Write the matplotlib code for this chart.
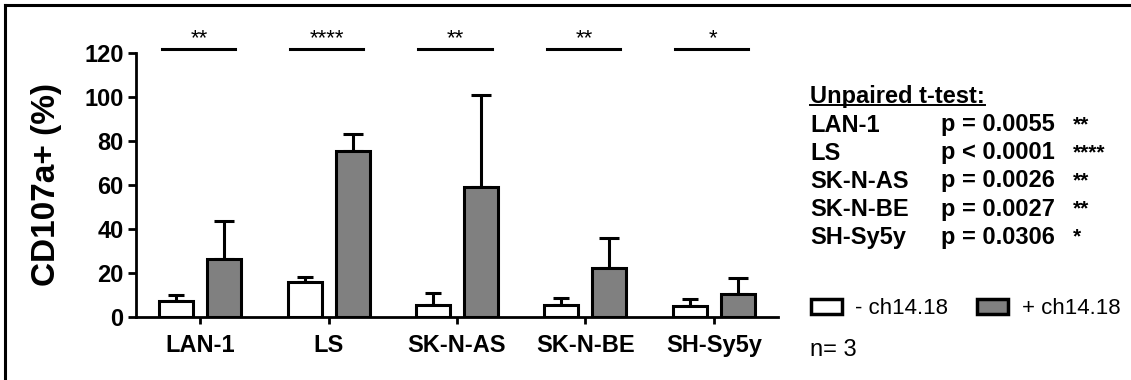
import matplotlib.pyplot as plt
import numpy as np
from matplotlib.patches import Patch
from matplotlib.lines import Line2D

plt.rcParams['font.family'] = ['Liberation Sans', 'DejaVu Sans']

cell_lines = ['LAN-1', 'LS', 'SK-N-AS', 'SK-N-BE', 'SH-Sy5y']
mean_minus = [7.3, 16.0, 5.5, 5.3, 4.8]
sd_minus = [2.5, 2.0, 5.3, 3.5, 3.2]
mean_plus = [26.5, 75.5, 59.2, 22.4, 10.5]
sd_plus = [17.3, 7.5, 41.8, 13.6, 7.4]
stars = ['**', '****', '**', '**', '*']
p_text = ['p = 0.0055', 'p < 0.0001', 'p = 0.0026', 'p = 0.0027', 'p = 0.0306']
legend_labels = ['- ch14.18', '+ ch14.18']
n_text = 'n= 3'

W, H = 1131, 380
fig = plt.figure(figsize=(W / 100, H / 100), dpi=100)
ax = fig.add_axes([136 / W, 1 - 317 / H, (778 - 136) / W, (317 - 53) / H])

x = np.arange(len(cell_lines))
bw = 0.265
off = 0.187
lw = 2.2

ax.errorbar(x - off, mean_minus, yerr=[np.zeros(5), sd_minus], fmt='none',
            ecolor='black', elinewidth=lw, capsize=6, capthick=lw, zorder=1)
ax.errorbar(x + off, mean_plus, yerr=[np.zeros(5), sd_plus], fmt='none',
            ecolor='black', elinewidth=lw, capsize=7, capthick=lw, zorder=1)
ax.bar(x - off, mean_minus, bw, color='white', edgecolor='black', linewidth=lw, zorder=2)
ax.bar(x + off, mean_plus, bw, color='#808080', edgecolor='black', linewidth=lw, zorder=2)

# significance bars above each pair
for i, s in enumerate(stars):
    ax.plot([i - 0.3, i + 0.27], [122, 122], color='black', lw=lw, clip_on=False)
    ax.text(i - 0.01, 126.5, s, ha='center', va='center', fontsize=16)

ax.set_xlim(-0.5, 4.5)
ax.set_ylim(0, 120)
ax.set_yticks(np.arange(0, 121, 20))
ax.set_xticks(x)
ax.set_xticklabels(cell_lines, fontsize=17, fontweight='bold')
for t in ax.get_yticklabels():
    t.set_fontsize(17)
    t.set_fontweight('bold')
ax.tick_params(axis='y', length=6, width=2, pad=3)
ax.tick_params(axis='x', length=5, width=2, pad=7)
for sp in ['top', 'right']:
    ax.spines[sp].set_visible(False)
for sp in ['left', 'bottom']:
    ax.spines[sp].set_linewidth(2)
ax.set_ylabel('CD107a+ (%)', fontsize=24, fontweight='bold', labelpad=16)

# t-test summary on the right
fs = 17
head = fig.text(810 / W, 1 - 97 / H, 'Unpaired t-test:', fontsize=fs,
                fontweight='bold', va='center')
fig.canvas.draw()
bb = head.get_window_extent(fig.canvas.get_renderer())
fig.add_artist(Line2D([bb.x0 / W, bb.x1 / W], [1 - 105 / H] * 2,
                      color='black', lw=1.4, transform=fig.transFigure))
for k, name in enumerate(cell_lines):
    yy = 1 - (125 + 28 * k) / H
    fig.text(810 / W, yy, name, fontsize=fs, fontweight='bold', va='center')
    fig.text(941 / W, yy, p_text[k], fontsize=fs, fontweight='bold', va='center')
    fig.text(1073 / W, yy, stars[k], fontsize=15, fontweight='bold', va='center')

handles = [Patch(facecolor='white', edgecolor='black', linewidth=2.5, label=legend_labels[0]),
           Patch(facecolor='#808080', edgecolor='black', linewidth=2.5, label=legend_labels[1])]
fig.legend(handles=handles, ncol=2, frameon=False, loc='center left',
           bbox_to_anchor=(811 / W, 1 - 309 / H), fontsize=16, borderpad=0,
           borderaxespad=0, handlelength=1.4, handleheight=0.68,
           handletextpad=0.6, columnspacing=1.3)
fig.text(810 / W, 1 - 350 / H, n_text, fontsize=17, va='center')

# frame lines along top and left edge
fig.add_artist(Line2D([4.5 / W, 1], [1 - 4.5 / H] * 2, color='black', lw=2.2,
                      transform=fig.transFigure))
fig.add_artist(Line2D([4.5 / W] * 2, [0, 1 - 4.5 / H], color='black', lw=2.2,
                      transform=fig.transFigure))

fig.savefig('out.png', dpi=100)
